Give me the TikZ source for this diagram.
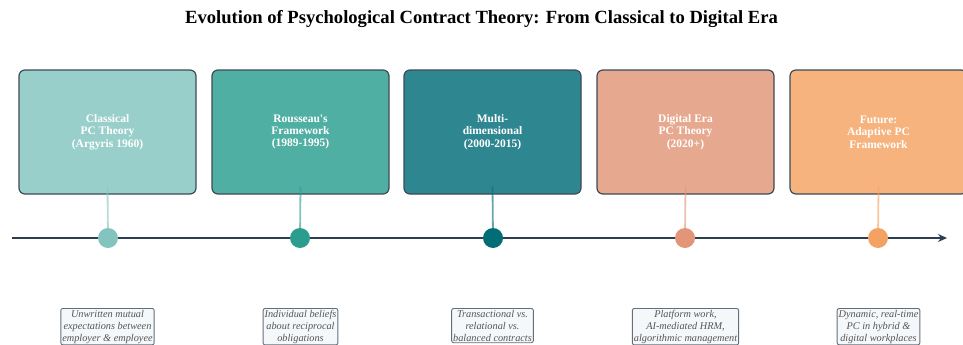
\documentclass[tikz,border=0pt]{standalone}
\usepackage{fontspec}
\setmainfont{Liberation Serif}
\usetikzlibrary{calc,arrows.meta}
\definecolor{cA}{HTML}{83C5BE}
\definecolor{cB}{HTML}{2A9D8F}
\definecolor{cC}{HTML}{006D77}
\definecolor{cD}{HTML}{E29578}
\definecolor{cE}{HTML}{F4A261}
\definecolor{edge}{HTML}{3D4A57}
\definecolor{axis}{HTML}{2C3E50}
\definecolor{note}{HTML}{555555}
\definecolor{notefill}{HTML}{F5F8FA}
\tikzset{
  x=1pt, y=1pt,
  era/.style={draw=edge, line width=1.2pt, rounded corners=6pt, minimum width=177pt, minimum height=124pt, fill opacity=0.82, text opacity=1, align=center, text=white, font=\fontsize{11.5}{12.4}\selectfont\bfseries},
  dot/.style={circle, minimum size=20pt, inner sep=0pt},
  stem/.style={line width=1.8pt, opacity=0.6},
  notebox/.style={draw=edge!80, line width=0.9pt, rounded corners=2pt, fill=notefill, align=center, text=note, inner sep=1.5pt, font=\fontsize{10.3}{12}\selectfont\itshape, anchor=north},
}
\begin{document}
\begin{tikzpicture}
\useasboundingbox (0,0) rectangle (963,-345);
\node[font=\fontsize{18.6}{20}\selectfont\bfseries] (title) at (481.5,-19) {Evolution of Psychological Contract Theory: From Classical to Digital Era};

\node[era, fill=cA] (b1) at (107.5,-132) {Classical\\PC Theory\\(Argyris 1960)};
\node[era, fill=cB] (b2) at (300.5,-132) {Rousseau\textquotesingle s\\Framework\\(1989-1995)};
\node[era, fill=cC] (b3) at (492.5,-132) {Multi-\\dimensional\\(2000-2015)};
\node[era, fill=cD] (b4) at (685.5,-132) {Digital Era\\PC Theory\\(2020+)};
\node[era, fill=cE] (b5) at (878.5,-132) {Future:\\Adaptive PC\\Framework};

\coordinate (tl0) at (12,-238);
\coordinate (tl1) at (947,-238);
\draw[axis, line width=2.8pt, -{Stealth[length=9pt,width=8pt]}] (tl0) -- (tl1);

\foreach \i/\c/\x in {1/cA/108,2/cB/300,3/cC/493,4/cD/685,5/cE/878}{
  \draw[stem, \c] ($(b\i.south)+(0,8)$) -- (\x,-238);
  \node[dot, fill=\c] (d\i) at (\x,-238) {};
}

\node[notebox] (n1) at (107.5,-308) {Unwritten mutual\\expectations between\\employer \& employee};
\node[notebox] (n2) at (300.5,-308) {Individual beliefs\\about reciprocal\\obligations};
\node[notebox] (n3) at (492.5,-308) {Transactional vs.\\relational vs.\\balanced contracts};
\node[notebox] (n4) at (685.5,-308) {Platform work,\\AI-mediated HRM,\\algorithmic management};
\node[notebox] (n5) at (878.5,-308) {Dynamic, real-time\\PC in hybrid \&\\digital workplaces};
\end{tikzpicture}
\end{document}
